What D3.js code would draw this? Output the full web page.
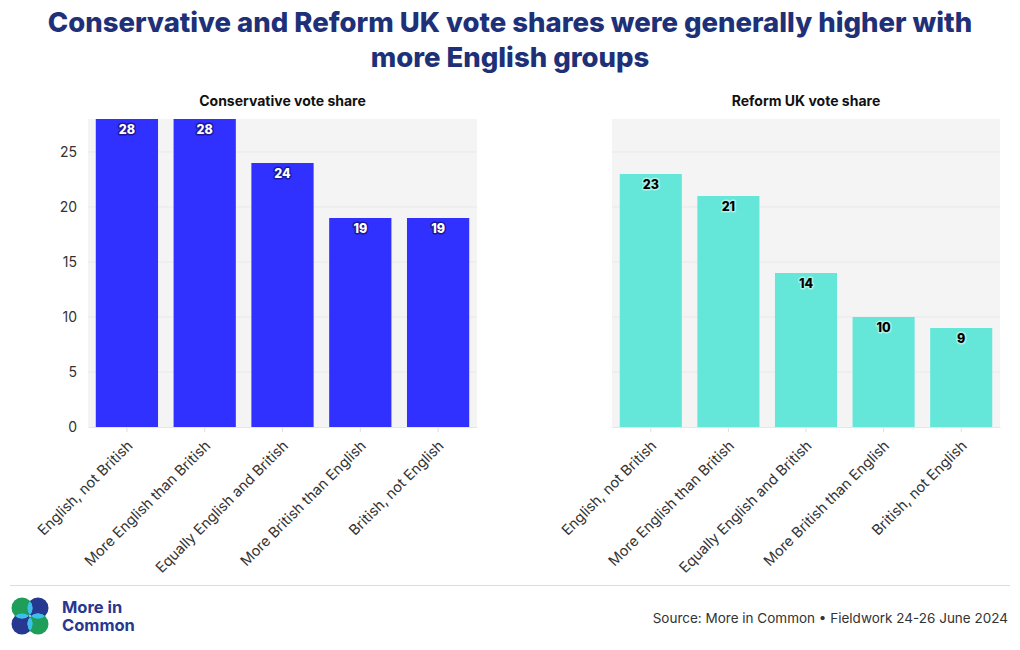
<!DOCTYPE html>
<html><head><meta charset="utf-8">
<script src="https://cdn.jsdelivr.net/npm/d3@7"></script>
<style>
body{margin:0;background:#fff;}
svg{display:block;font-family:Inter, "Noto Sans", sans-serif;}
</style></head>
<body>
<svg id="c" width="1020" height="650"></svg>
<script>
const categories = ["English, not British","More English than British","Equally English and British","More British than English","British, not English"];
const conservative = [28,28,24,19,19];
const reform = [23,21,14,10,9];
const yTicks = [0,5,10,15,20,25];
const titleLines = ["Conservative and Reform UK vote shares were generally higher with","more English groups"];
const panelTitles = ["Conservative vote share","Reform UK vote share"];
const source = "Source: More in Common • Fieldwork 24-26 June 2024";

const svg = d3.select("#c");
svg.append("rect").attr("width",1020).attr("height",650).attr("fill","#fff");

svg.selectAll("text.title").data(titleLines).join("text")
  .attr("x",510).attr("y",(d,i)=>32+i*35).attr("text-anchor","middle")
  .attr("font-size",27.5).attr("font-weight",800).attr("fill","#1e3178").text(d=>d);

const plotTop=119, plotBottom=427;
const y = d3.scaleLinear().domain([0,28]).range([plotBottom,plotTop]);

function panel(x0,x1,values,title,color,textColor,halo,showY){
  const g = svg.append("g");
  const x = d3.scaleBand().domain(categories).range([x0,x1]).paddingInner(0.2).paddingOuter(0.1);
  g.append("rect").attr("x",x0).attr("y",plotTop).attr("width",x1-x0).attr("height",plotBottom-plotTop).attr("fill","#f4f4f4");
  g.selectAll("line.grid").data(yTicks.filter(t=>t>0)).join("line")
    .attr("x1",x0).attr("x2",x1).attr("y1",d=>y(d)).attr("y2",d=>y(d))
    .attr("stroke","#e9e9e9").attr("stroke-width",1);
  g.append("text").attr("x",(x0+x1)/2).attr("y",106).attr("text-anchor","middle")
    .attr("font-size",14).attr("font-weight",700).attr("fill","#111").text(title);
  g.selectAll("rect.bar").data(values).join("rect")
    .attr("x",(d,i)=>x(categories[i])).attr("width",x.bandwidth())
    .attr("y",d=>y(d)).attr("height",d=>plotBottom-y(d)).attr("fill",color);
  g.selectAll("text.val").data(values).join("text")
    .attr("x",(d,i)=>x(categories[i])+x.bandwidth()/2).attr("y",d=>y(d)+15)
    .attr("text-anchor","middle").attr("font-size",12.5).attr("font-weight",800)
    .attr("fill",textColor).attr("stroke",halo).attr("stroke-width",3).attr("paint-order","stroke")
    .attr("stroke-linejoin","round").text(d=>d);
  const xa = g.append("g").attr("transform",`translate(0,${plotBottom})`)
    .call(d3.axisBottom(x).tickSize(5).tickSizeOuter(0));
  xa.select(".domain").attr("stroke","#e6e6e6");
  xa.selectAll(".tick line").attr("stroke","#e0e0e0");
  xa.selectAll(".tick text").attr("font-size",14.5).attr("fill","#333")
    .attr("font-family","Inter, 'Noto Sans', sans-serif")
    .attr("text-anchor","end").attr("x",0).attr("y",0).attr("dy","0.35em")
    .attr("transform","translate(3,16) rotate(-45)");
  if(showY){
    const ya = g.append("g").attr("transform",`translate(${x0},0)`)
      .call(d3.axisLeft(y).tickValues(yTicks).tickSize(0).tickPadding(11));
    ya.select(".domain").remove();
    ya.selectAll(".tick text").attr("font-size",14).attr("fill","#333")
      .attr("font-family","Inter, 'Noto Sans', sans-serif");
  }
}
panel(88,477,conservative,panelTitles[0],"#3131ff","#fff","#1a1aa0",true);
panel(612,1000,reform,panelTitles[1],"#64e6d8","#000","#a8f2ea",false);

// footer
svg.append("line").attr("x1",10).attr("x2",1010).attr("y1",585.5).attr("y2",585.5).attr("stroke","#ddd");
svg.append("text").attr("x",1008).attr("y",623).attr("text-anchor","end")
  .attr("font-size",13.5).attr("fill","#333").text(source);

// logo
const lg = svg.append("g");
const cs = [{cx:22,cy:608,c:"#1f9e5a"},{cx:38,cy:608,c:"#26388f"},{cx:22,cy:624,c:"#26388f"},{cx:38,cy:624,c:"#1f9e5a"}];
const defs = svg.append("defs");
cs.forEach((d,i)=>{
  const cp = defs.append("clipPath").attr("id","cp"+i);
  cs.forEach((o,j)=>{ if(j!==i) cp.append("circle").attr("cx",o.cx).attr("cy",o.cy).attr("r",10.5); });
});
lg.selectAll("circle.o").data(cs).join("circle").attr("cx",d=>d.cx).attr("cy",d=>d.cy).attr("r",10.5).attr("fill",d=>d.c);
lg.selectAll("circle.i").data(cs).join("circle").attr("cx",d=>d.cx).attr("cy",d=>d.cy).attr("r",10.5)
  .attr("fill","#3dbfea").attr("clip-path",(d,i)=>`url(#cp${i})`);
lg.selectAll("text").data(["More in","Common"]).join("text")
  .attr("x",62).attr("y",(d,i)=>613+i*18).attr("font-size",16.5).attr("font-weight",700)
  .attr("fill","#26388f").text(d=>d);
</script>
</body></html>
